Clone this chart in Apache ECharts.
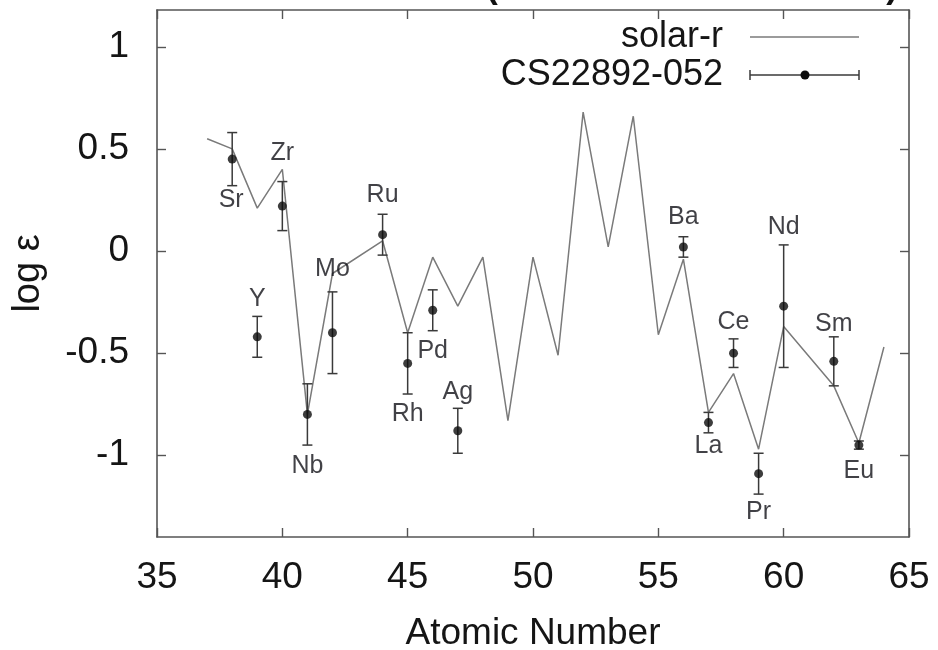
<!DOCTYPE html>
<html>
<head>
<meta charset="utf-8">
<title>CS22892-052 neutron-capture abundances</title>
<script src="https://cdn.jsdelivr.net/npm/echarts@6/dist/echarts.min.js"></script>
<style>
  html, body { margin: 0; padding: 0; background: #fff; }
  #chart { width: 938px; height: 650px; }
</style>
</head>
<body>
<div id="chart"></div>
<script>
// Scaled solar r-process abundances (atomic number, log epsilon); Tc and Pm have none
const solarZ = [37, 38, 39, 40, 41, 42, 44, 45, 46, 47, 48, 49, 50, 51, 52, 53, 54, 55, 56, 57, 58, 59, 60, 62, 63, 64];
const solarLogEps = [0.55, 0.50, 0.21, 0.40, -0.80, -0.11, 0.05, -0.40, -0.03, -0.27, -0.03, -0.83, -0.03, -0.51, 0.68, 0.02, 0.66, -0.41, -0.04, -0.79, -0.60, -0.97, -0.37, -0.66, -0.94, -0.47];

// Measured abundances in CS22892-052 with their uncertainties
const elements = ['Sr', 'Y', 'Zr', 'Nb', 'Mo', 'Ru', 'Rh', 'Pd', 'Ag', 'Ba', 'La', 'Ce', 'Pr', 'Nd', 'Sm', 'Eu'];
const starZ = [38, 39, 40, 41, 42, 44, 45, 46, 47, 56, 57, 58, 59, 60, 62, 63];
const starLogEps = [0.45, -0.42, 0.22, -0.80, -0.40, 0.08, -0.55, -0.29, -0.88, 0.02, -0.84, -0.50, -1.09, -0.27, -0.54, -0.95];
const starErr = [0.13, 0.10, 0.12, 0.15, 0.20, 0.10, 0.15, 0.10, 0.11, 0.05, 0.05, 0.07, 0.10, 0.30, 0.12, 0.02];

// Axis ticks
const xTicks = [35, 40, 45, 50, 55, 60, 65];
const yTicks = [-1, -0.5, 0, 0.5, 1];

// Where each element name sits relative to its point (pixels)
const nameOffsets = {
  Sr: [-1, 41], Y: [0, -38], Zr: [0, -53], Nb: [0, 52], Mo: [0, -64],
  Ru: [0, -40], Rh: [0, 51], Pd: [0, 41], Ag: [0, -39], Ba: [0, -30],
  La: [0, 23], Ce: [0, -31], Pr: [0, 38], Nd: [0, -79], Sm: [0, -37], Eu: [0, 26]
};

const FONT = "'Liberation Sans', Arial, Helvetica, sans-serif";
const FRAME = '#555';
const INK = '#151515';

const solarData = solarZ.map((z, i) => [z, solarLogEps[i]]);
const starData = starZ.map((z, i) => ({
  name: elements[i],
  value: [z, starLogEps[i]],
  label: { offset: nameOffsets[elements[i]] }
}));
const errData = starZ.map((z, i) => [z, starLogEps[i], starErr[i]]);

const frameAxis = {
  type: 'value',
  axisLine: { show: true, onZero: false, lineStyle: { color: FRAME, width: 1.6 } },
  axisTick: { show: true, inside: true, length: 9, lineStyle: { color: FRAME, width: 1.4 } },
  splitLine: { show: false }
};

const chart = echarts.init(document.getElementById('chart'), null, { renderer: 'canvas' });

chart.setOption({
  animation: false,
  backgroundColor: '#fff',
  grid: { left: 157, right: 29, top: 10, bottom: 113, containLabel: false, outerBoundsMode: 'none' },
  xAxis: [
    Object.assign({}, frameAxis, {
      position: 'bottom', min: xTicks[0], max: xTicks[xTicks.length - 1], interval: 5,
      name: 'Atomic Number', nameLocation: 'middle', nameGap: 78,
      nameTextStyle: { fontFamily: FONT, fontSize: 37, color: INK },
      axisLabel: { fontFamily: FONT, fontSize: 37, color: INK, margin: 22 }
    }),
    Object.assign({}, frameAxis, {
      position: 'top', min: xTicks[0], max: xTicks[xTicks.length - 1], interval: 5,
      axisLabel: { show: false }
    })
  ],
  yAxis: [
    Object.assign({}, frameAxis, {
      position: 'left', min: -1.4, max: 1.18,
      name: 'log ε', nameLocation: 'middle', nameGap: 109, nameRotate: 90,
      nameTextStyle: { fontFamily: FONT, fontSize: 38, color: INK },
      axisTick: Object.assign({}, frameAxis.axisTick, { customValues: yTicks }),
      axisLabel: { fontFamily: FONT, fontSize: 37, color: INK, margin: 28, customValues: yTicks }
    }),
    Object.assign({}, frameAxis, {
      position: 'right', min: -1.4, max: 1.18,
      axisTick: Object.assign({}, frameAxis.axisTick, { customValues: yTicks }),
      axisLabel: { show: false, customValues: yTicks }
    })
  ],
  series: [
    {
      name: 'solar-r',
      type: 'line',
      data: solarData,
      showSymbol: false,
      symbol: 'none',
      lineStyle: { color: '#7a7a7a', width: 1.5 },
      z: 2
    },
    {
      name: 'CS22892-052 errors',
      type: 'custom',
      data: errData,
      z: 3,
      renderItem: function (params, api) {
        const z = api.value(0), v = api.value(1), e = api.value(2);
        const top = api.coord([z, v + e]);
        const bot = api.coord([z, v - e]);
        const cap = 5;
        const style = { stroke: '#3a3a3a', lineWidth: 1.5, fill: null };
        return {
          type: 'group',
          children: [
            { type: 'line', shape: { x1: top[0], y1: top[1], x2: bot[0], y2: bot[1] }, style: style },
            { type: 'line', shape: { x1: top[0] - cap, y1: top[1], x2: top[0] + cap, y2: top[1] }, style: style },
            { type: 'line', shape: { x1: bot[0] - cap, y1: bot[1], x2: bot[0] + cap, y2: bot[1] }, style: style }
          ]
        };
      }
    },
    {
      name: 'CS22892-052',
      type: 'scatter',
      data: starData,
      symbol: 'circle',
      symbolSize: 9,
      itemStyle: { color: '#0d0d0d' },
      z: 4,
      label: {
        show: true,
        position: 'inside',
        formatter: '{b}',
        fontFamily: FONT,
        fontSize: 25,
        color: '#111118',
        textBorderWidth: 0
      }
    }
  ],
  graphic: [
    // reference line above the frame, mostly outside the canvas
    {
      type: 'text', left: 482, top: -28, silent: true,
      style: {
        text: '(Sneden et al. 1996)', font: "bold 35px 'Liberation Mono', 'DejaVu Sans Mono', monospace",
        fill: '#111'
      }
    },
    // key
    {
      type: 'text', silent: true,
      style: { text: 'solar-r', x: 723, y: 37, align: 'right', verticalAlign: 'middle', fontFamily: FONT, fontSize: 36, fill: INK }
    },
    {
      type: 'text', silent: true,
      style: { text: 'CS22892-052', x: 723, y: 75, align: 'right', verticalAlign: 'middle', fontFamily: FONT, fontSize: 36, fill: INK }
    },
    { type: 'line', silent: true, shape: { x1: 750, y1: 37, x2: 859, y2: 37 }, style: { stroke: '#7a7a7a', lineWidth: 1.5 } },
    { type: 'line', silent: true, shape: { x1: 750, y1: 75, x2: 859, y2: 75 }, style: { stroke: '#3a3a3a', lineWidth: 1.5 } },
    { type: 'line', silent: true, shape: { x1: 750, y1: 70, x2: 750, y2: 80 }, style: { stroke: '#3a3a3a', lineWidth: 1.5 } },
    { type: 'line', silent: true, shape: { x1: 859, y1: 70, x2: 859, y2: 80 }, style: { stroke: '#3a3a3a', lineWidth: 1.5 } },
    { type: 'circle', silent: true, shape: { cx: 805, cy: 75, r: 4.5 }, style: { fill: '#0d0d0d' } }
  ]
});
</script>
</body>
</html>
